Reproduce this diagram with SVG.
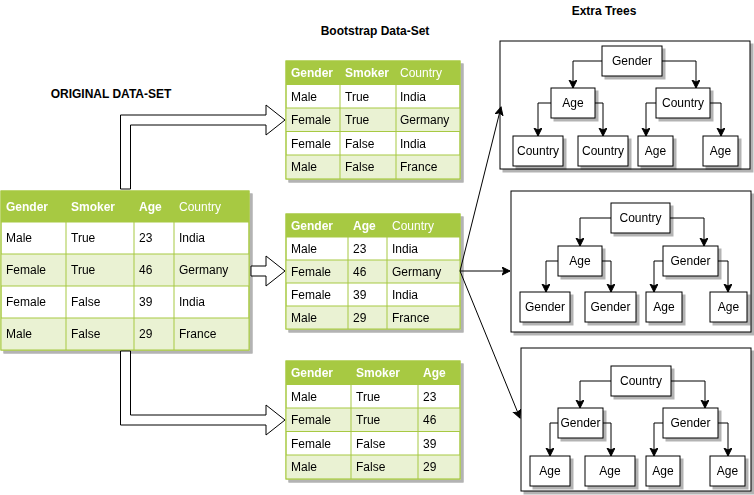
<svg xmlns="http://www.w3.org/2000/svg" width="754" height="495" viewBox="0 0 754 495">
<defs>
<filter id="sh" x="-5%" y="-5%" width="120%" height="130%">
<feFlood flood-color="#000" flood-opacity="0.3"/>
<feComposite in2="SourceAlpha" operator="in"/>
<feOffset dx="3" dy="3" result="s"/>
<feMerge><feMergeNode in="s"/><feMergeNode in="SourceGraphic"/></feMerge>
</filter>
<marker id="ar" markerUnits="userSpaceOnUse" markerWidth="10" markerHeight="10" refX="8" refY="4" orient="auto">
<path d="M0,0 L8,4 L0,8 L2,4 z" fill="#000" stroke="#000" stroke-width="1"/>
</marker>
<style>
text{font-family:"Liberation Sans",Arial,sans-serif;font-size:12px;fill:#000}
.t{font-weight:bold;text-anchor:middle}
.h{fill:#fff}
.hb{fill:#fff;font-weight:bold}
.hdr{fill:#A7C942}
.alt{fill:#EAF2D3}
.frame{fill:#fff;stroke:#A7C942;stroke-width:1}
.gl{stroke:#A7C942;stroke-width:1;fill:none}
.node rect{fill:#fff;stroke:#000;stroke-width:1}
.node text{text-anchor:middle}
.box{fill:#fff;stroke:#000;stroke-width:1}
.e{fill:none;stroke:#000;stroke-width:1;marker-end:url(#ar)}
.big{fill:#fff;stroke:#000;stroke-width:1}
</style>
</defs>
<rect width="754" height="495" fill="#fff"/>

<text class="t" x="111" y="98">ORIGINAL DATA-SET</text>
<text class="t" x="375" y="35">Bootstrap Data-Set</text>
<text class="t" x="604" y="15">Extra Trees</text>

<!-- Original data-set -->
<g id="original" filter="url(#sh)">
<rect class="frame" x="1" y="191" width="248" height="159"/>
<rect class="hdr" x="1" y="191" width="248" height="31"/>
<rect class="alt" x="1" y="254" width="248" height="32"/>
<rect class="alt" x="1" y="318" width="248" height="32"/>
<path class="gl" d="M1,222H249M1,254H249M1,286H249M1,318H249M66,191V350M134,191V350M174,191V350"/>
<rect x="1" y="191" width="248" height="159" fill="none" stroke="#A7C942"/>
<text class="hb" x="6" y="211">Gender</text><text class="hb" x="71" y="211">Smoker</text><text class="hb" x="139" y="211">Age</text><text class="h" x="179" y="211">Country</text>
<text x="6" y="242">Male</text><text x="71" y="242">True</text><text x="139" y="242">23</text><text x="179" y="242">India</text>
<text x="6" y="274">Female</text><text x="71" y="274">True</text><text x="139" y="274">46</text><text x="179" y="274">Germany</text>
<text x="6" y="306">Female</text><text x="71" y="306">False</text><text x="139" y="306">39</text><text x="179" y="306">India</text>
<text x="6" y="338">Male</text><text x="71" y="338">False</text><text x="139" y="338">29</text><text x="179" y="338">France</text>
</g>

<!-- Bootstrap 1 -->
<g id="boot1" filter="url(#sh)">
<rect class="frame" x="286" y="61" width="174" height="118"/>
<rect class="hdr" x="286" y="61" width="174" height="23.5"/>
<rect class="alt" x="286" y="108" width="174" height="23.5"/>
<rect class="alt" x="286" y="155" width="174" height="23.5"/>
<path class="gl" d="M286,84.5H460M286,108H460M286,131.5H460M286,155H460M340,61V179M396,61V179"/>
<rect x="286" y="61" width="174" height="118" fill="none" stroke="#A7C942"/>
<text class="hb" x="291" y="77">Gender</text><text class="hb" x="345" y="77">Smoker</text><text class="h" x="400" y="77">Country</text>
<text x="291" y="100.5">Male</text><text x="345" y="100.5">True</text><text x="400" y="100.5">India</text>
<text x="291" y="124">Female</text><text x="345" y="124">True</text><text x="400" y="124">Germany</text>
<text x="291" y="147.5">Female</text><text x="345" y="147.5">False</text><text x="400" y="147.5">India</text>
<text x="291" y="171">Male</text><text x="345" y="171">False</text><text x="400" y="171">France</text>
</g>

<!-- Bootstrap 2 -->
<g id="boot2" filter="url(#sh)">
<rect class="frame" x="286" y="214" width="174" height="115"/>
<rect class="hdr" x="286" y="214" width="174" height="23"/>
<rect class="alt" x="286" y="260" width="174" height="23"/>
<rect class="alt" x="286" y="306" width="174" height="23"/>
<path class="gl" d="M286,237H460M286,260H460M286,283H460M286,306H460M348,214V329M387,214V329"/>
<rect x="286" y="214" width="174" height="115" fill="none" stroke="#A7C942"/>
<text class="hb" x="291" y="230">Gender</text><text class="hb" x="353" y="230">Age</text><text class="h" x="392" y="230">Country</text>
<text x="291" y="253">Male</text><text x="353" y="253">23</text><text x="392" y="253">India</text>
<text x="291" y="276">Female</text><text x="353" y="276">46</text><text x="392" y="276">Germany</text>
<text x="291" y="299">Female</text><text x="353" y="299">39</text><text x="392" y="299">India</text>
<text x="291" y="322">Male</text><text x="353" y="322">29</text><text x="392" y="322">France</text>
</g>

<!-- Bootstrap 3 -->
<g id="boot3" filter="url(#sh)">
<rect class="frame" x="286" y="361" width="174" height="118"/>
<rect class="hdr" x="286" y="361" width="174" height="23.5"/>
<rect class="alt" x="286" y="408" width="174" height="23.5"/>
<rect class="alt" x="286" y="455" width="174" height="23.5"/>
<path class="gl" d="M286,384.5H460M286,408H460M286,431.5H460M286,455H460M351,361V479M418,361V479"/>
<rect x="286" y="361" width="174" height="118" fill="none" stroke="#A7C942"/>
<text class="hb" x="291" y="377">Gender</text><text class="hb" x="356" y="377">Smoker</text><text class="hb" x="423" y="377">Age</text>
<text x="291" y="400.5">Male</text><text x="356" y="400.5">True</text><text x="423" y="400.5">23</text>
<text x="291" y="424">Female</text><text x="356" y="424">True</text><text x="423" y="424">46</text>
<text x="291" y="447.5">Female</text><text x="356" y="447.5">False</text><text x="423" y="447.5">39</text>
<text x="291" y="471">Male</text><text x="356" y="471">False</text><text x="423" y="471">29</text>
</g>

<!-- Tree containers -->
<g id="tree1box"><rect class="box" x="500" y="41" width="250" height="128" filter="url(#sh)"/></g>
<g id="tree2box"><rect class="box" x="511" y="191" width="240" height="141" filter="url(#sh)"/></g>
<g id="tree3box"><rect class="box" x="521" y="348" width="230" height="143" filter="url(#sh)"/></g>

<!-- Tree 1 nodes -->
<g class="node" filter="url(#sh)">
<g id="t1-gender"><rect x="602" y="46" width="60" height="30"/><text x="632" y="65">Gender</text></g>
<g id="t1-age"><rect x="551" y="88" width="44" height="30"/><text x="573" y="107">Age</text></g>
<g id="t1-country"><rect x="656" y="88" width="54" height="30"/><text x="683" y="107">Country</text></g>
<g id="t1-l1"><rect x="513" y="136" width="50" height="30"/><text x="538" y="155">Country</text></g>
<g id="t1-l2"><rect x="578" y="136" width="50" height="30"/><text x="603" y="155">Country</text></g>
<g id="t1-l3"><rect x="638" y="136" width="35" height="30"/><text x="655.5" y="155">Age</text></g>
<g id="t1-l4"><rect x="703" y="136" width="35" height="30"/><text x="720.5" y="155">Age</text></g>
</g>

<!-- Tree 2 nodes -->
<g class="node" filter="url(#sh)">
<g id="t2-country"><rect x="611" y="203" width="59" height="30"/><text x="640.5" y="222">Country</text></g>
<g id="t2-age"><rect x="558" y="246" width="44" height="30"/><text x="580" y="265">Age</text></g>
<g id="t2-gender"><rect x="663" y="246" width="55" height="30"/><text x="690.5" y="265">Gender</text></g>
<g id="t2-l1"><rect x="520" y="292" width="50" height="30"/><text x="545" y="311">Gender</text></g>
<g id="t2-l2"><rect x="585" y="292" width="51" height="30"/><text x="610.5" y="311">Gender</text></g>
<g id="t2-l3"><rect x="646" y="292" width="36" height="30"/><text x="664" y="311">Age</text></g>
<g id="t2-l4"><rect x="710" y="292" width="37" height="30"/><text x="728.5" y="311">Age</text></g>
</g>

<!-- Tree 3 nodes -->
<g class="node" filter="url(#sh)">
<g id="t3-country"><rect x="611" y="366" width="60" height="30"/><text x="641" y="385">Country</text></g>
<g id="t3-gender1"><rect x="558" y="408" width="45" height="30"/><text x="580.5" y="427">Gender</text></g>
<g id="t3-gender2"><rect x="663" y="408" width="55" height="30"/><text x="690.5" y="427">Gender</text></g>
<g id="t3-l1"><rect x="530" y="456" width="40" height="30"/><text x="550" y="475">Age</text></g>
<g id="t3-l2"><rect x="585" y="456" width="50" height="30"/><text x="610" y="475">Age</text></g>
<g id="t3-l3"><rect x="646" y="456" width="34" height="30"/><text x="663" y="475">Age</text></g>
<g id="t3-l4"><rect x="710" y="456" width="35" height="30"/><text x="727.5" y="475">Age</text></g>
</g>

<!-- Connectors -->
<g id="connectors">
<path class="big" d="M120.5,189V115H266V105L285,120L266,135V125H130.5V189Z"/>
<path class="big" d="M251,266H266V256L285,271L266,286V276H251Z"/>
<path class="big" d="M120.5,351H130.5V415H266V405L285,420L266,435V425H120.5Z"/>
<path class="e" d="M460,271L501,107"/>
<path class="e" d="M460,271H510"/>
<path class="e" d="M460,271L520,418"/>
<path class="e" d="M602,61H573V88"/>
<path class="e" d="M662,61H696V88"/>
<path class="e" d="M551,103H538V136"/>
<path class="e" d="M595,103H603V136"/>
<path class="e" d="M656,103H646V136"/>
<path class="e" d="M710,103H721V136"/>
<path class="e" d="M611,218H580V246"/>
<path class="e" d="M670,218H704V246"/>
<path class="e" d="M558,261H546V292"/>
<path class="e" d="M602,261H611V292"/>
<path class="e" d="M663,261H654V292"/>
<path class="e" d="M718,261H728V292"/>
<path class="e" d="M611,381H580V408"/>
<path class="e" d="M671,381H705V408"/>
<path class="e" d="M558,423H550V456"/>
<path class="e" d="M603,423H611V456"/>
<path class="e" d="M663,423H654V456"/>
<path class="e" d="M718,423H728V456"/>
</g>
</svg>
